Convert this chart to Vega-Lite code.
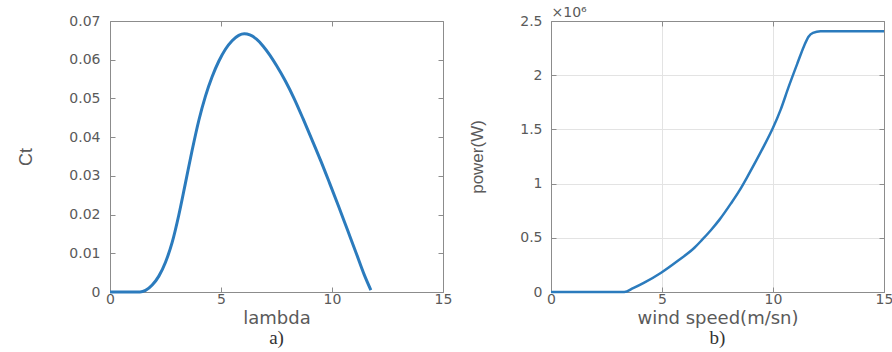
{
  "$schema": "https://vega.github.io/schema/vega-lite/v6.json",
  "background": "white",
  "padding": {"left": 17, "top": 5, "right": 0, "bottom": 0},
  "bounds": "flush",
  "spacing": 108,
  "datasets": {
    "ct": [
      {"lambda": 0, "ct": 0},
      {"lambda": 1.0, "ct": 0},
      {"lambda": 1.35, "ct": 0},
      {"lambda": 1.6, "ct": 0.0004},
      {"lambda": 1.9, "ct": 0.0018},
      {"lambda": 2.2, "ct": 0.0041},
      {"lambda": 2.5, "ct": 0.0077},
      {"lambda": 2.8, "ct": 0.0128},
      {"lambda": 3.1, "ct": 0.0199},
      {"lambda": 3.4, "ct": 0.0282},
      {"lambda": 3.7, "ct": 0.0366},
      {"lambda": 4.0, "ct": 0.0443},
      {"lambda": 4.3, "ct": 0.0506},
      {"lambda": 4.6, "ct": 0.0556},
      {"lambda": 4.9, "ct": 0.0596},
      {"lambda": 5.2, "ct": 0.0627},
      {"lambda": 5.5, "ct": 0.0649},
      {"lambda": 5.8, "ct": 0.0663},
      {"lambda": 6.05, "ct": 0.0667},
      {"lambda": 6.3, "ct": 0.0664},
      {"lambda": 6.6, "ct": 0.0653},
      {"lambda": 6.9, "ct": 0.0635},
      {"lambda": 7.2, "ct": 0.0612},
      {"lambda": 7.5, "ct": 0.0585},
      {"lambda": 7.9, "ct": 0.0545},
      {"lambda": 8.3, "ct": 0.0499},
      {"lambda": 8.7, "ct": 0.0447},
      {"lambda": 9.1, "ct": 0.0393},
      {"lambda": 9.5, "ct": 0.0338},
      {"lambda": 9.9, "ct": 0.028},
      {"lambda": 10.3, "ct": 0.0221},
      {"lambda": 10.7, "ct": 0.016},
      {"lambda": 11.1, "ct": 0.0099},
      {"lambda": 11.45, "ct": 0.0045},
      {"lambda": 11.75, "ct": 0.0005}
    ],
    "power": [
      {"speed": 0, "power": 0},
      {"speed": 3.3, "power": 0},
      {"speed": 3.7, "power": 35000},
      {"speed": 4.2, "power": 86000},
      {"speed": 4.96, "power": 178000},
      {"speed": 5.7, "power": 286000},
      {"speed": 6.46, "power": 408000},
      {"speed": 6.8, "power": 480000},
      {"speed": 7.2, "power": 570000},
      {"speed": 7.6, "power": 670000},
      {"speed": 8.1, "power": 815000},
      {"speed": 8.5, "power": 940000},
      {"speed": 8.85, "power": 1065000},
      {"speed": 9.2, "power": 1195000},
      {"speed": 9.6, "power": 1350000},
      {"speed": 10.0, "power": 1515000},
      {"speed": 10.35, "power": 1685000},
      {"speed": 10.7, "power": 1890000},
      {"speed": 11.1, "power": 2110000},
      {"speed": 11.4, "power": 2270000},
      {"speed": 11.6, "power": 2355000},
      {"speed": 11.8, "power": 2390000},
      {"speed": 12.14, "power": 2405000},
      {"speed": 15, "power": 2405000}
    ]
  },
  "hconcat": [
    {
      "width": 333,
      "height": 271,
      "data": {"name": "ct"},
      "title": {"text": "a)", "orient": "bottom", "font": "Liberation Serif", "fontSize": 19, "fontWeight": "normal", "color": "#333333", "offset": 2},
      "layer": [
        {
          "mark": {"type": "line", "color": "#2b7bbd", "strokeWidth": 3, "interpolate": "monotone"},
          "encoding": {
            "x": {"field": "lambda", "type": "quantitative", "scale": {"domain": [0, 15], "nice": false},
              "axis": {"orient": "bottom", "title": "lambda", "values": [0, 5, 10, 15], "grid": false, "titleFontSize": 18, "labelPadding": 5, "titlePadding": 3}},
            "y": {"field": "ct", "type": "quantitative", "scale": {"domain": [0, 0.07], "nice": false},
              "axis": {"orient": "left", "title": "Ct", "values": [0, 0.01, 0.02, 0.03, 0.04, 0.05, 0.06, 0.07], "format": ".2~f", "grid": false, "titleFont": "Liberation Sans", "titleFontSize": 18, "titlePadding": 33, "labelPadding": 15}}
          }
        },
        {
          "mark": {"type": "line", "opacity": 0},
          "encoding": {
            "x": {"field": "lambda", "type": "quantitative", "scale": {"domain": [0, 15], "nice": false},
              "axis": {"orient": "top", "title": null, "labels": false, "values": [0, 5, 10, 15], "grid": false}},
            "y": {"field": "ct", "type": "quantitative", "scale": {"domain": [0, 0.07], "nice": false},
              "axis": {"orient": "right", "title": null, "labels": false, "values": [0, 0.01, 0.02, 0.03, 0.04, 0.05, 0.06, 0.07], "grid": false}}
          }
        }
      ],
      "resolve": {"axis": {"x": "independent", "y": "independent"}}
    },
    {
      "width": 333,
      "height": 271,
      "data": {"name": "power"},
      "title": {"text": "b)", "orient": "bottom", "font": "Liberation Serif", "fontSize": 19, "fontWeight": "normal", "color": "#333333", "offset": 2},
      "layer": [
        {
          "mark": {"type": "line", "color": "#2b7bbd", "strokeWidth": 2.5, "interpolate": "monotone"},
          "encoding": {
            "x": {"field": "speed", "type": "quantitative", "scale": {"domain": [0, 15], "nice": false},
              "axis": {"orient": "bottom", "title": "wind speed(m/sn)", "values": [0, 5, 10, 15], "grid": true, "titleFontSize": 18, "labelPadding": 5, "titlePadding": 3}},
            "y": {"field": "power", "type": "quantitative", "scale": {"domain": [0, 2500000], "nice": false},
              "axis": {"orient": "left", "title": "power(W)", "values": [0, 500000, 1000000, 1500000, 2000000, 2500000], "labelExpr": "format(datum.value / 1000000, '~g')", "grid": true, "titleFont": "Liberation Sans", "titleFontSize": 17, "titlePadding": 33, "labelPadding": 14}}
          }
        },
        {
          "mark": {"type": "line", "opacity": 0},
          "encoding": {
            "x": {"field": "speed", "type": "quantitative", "scale": {"domain": [0, 15], "nice": false},
              "axis": {"orient": "top", "title": "×10⁶", "titleAnchor": "start", "titleAlign": "left", "titleFontSize": 14, "titlePadding": 1, "labels": false, "values": [0, 5, 10, 15], "grid": false}},
            "y": {"field": "power", "type": "quantitative", "scale": {"domain": [0, 2500000], "nice": false},
              "axis": {"orient": "right", "title": null, "labels": false, "values": [0, 500000, 1000000, 1500000, 2000000, 2500000], "grid": false}}
          }
        }
      ],
      "resolve": {"axis": {"x": "independent", "y": "independent"}}
    }
  ],
  "config": {
    "view": {"stroke": null},
    "axis": {
      "labelFont": "DejaVu Sans",
      "labelFontSize": 14,
      "labelColor": "#5a5a5a",
      "labelFlush": false,
      "titleFont": "DejaVu Sans",
      "titleFontWeight": "normal",
      "titleColor": "#5a5a5a",
      "domainColor": "#8c8c8c",
      "tickColor": "#8c8c8c",
      "tickSize": -5,
      "gridColor": "#e3e3e3"
    }
  }
}
